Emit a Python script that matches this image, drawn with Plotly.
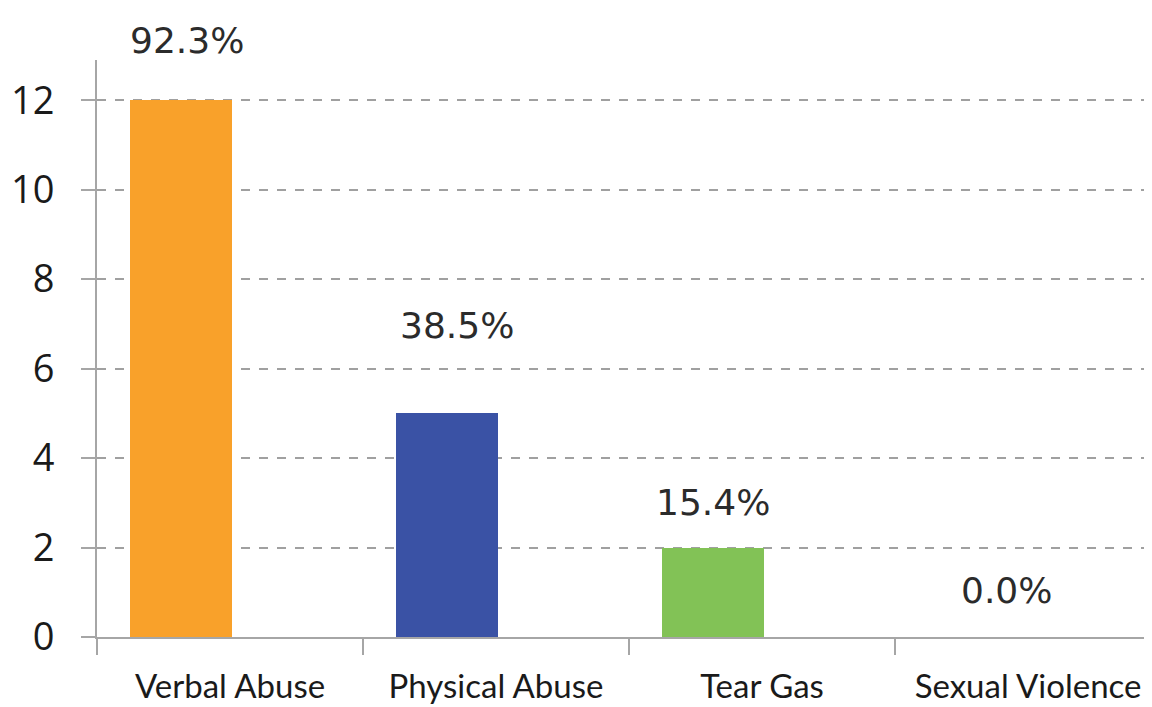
import plotly.graph_objects as go

categories = ["Verbal Abuse", "Physical Abuse", "Tear Gas", "Sexual Violence"]
counts = [12, 5, 2, 0]
pct_labels = ["92.3%", "38.5%", "15.4%", "0.0%"]
bar_colors = ["#F9A12A", "#3A52A5", "#82C256", "#A5A5A5"]
y_ticks = [0, 2, 4, 6, 8, 10, 12]

# label placement (style): pixel shifts relative to the bar top
label_yshift = [60, 88, 45, 47]
label_xshift = [-43, -39, -49, -22]

fig = go.Figure()
fig.add_trace(go.Bar(
    x=categories, y=counts,
    marker=dict(color=bar_colors, line=dict(width=0)),
    width=0.385, offset=-0.376,
    hoverinfo="x+y",
))

for c, v, t, ys, xs in zip(categories, counts, pct_labels, label_yshift, label_xshift):
    fig.add_annotation(x=c, y=v, text=t, showarrow=False, xanchor="center", yanchor="middle",
                       yshift=ys, xshift=xs,
                       font=dict(family="DejaVu Sans", size=36, color="#2b2b2b"))

fig.update_layout(
    width=1144, height=699,
    margin=dict(l=89, r=0, t=52, b=70, autoexpand=False),
    plot_bgcolor="white", paper_bgcolor="white",
    showlegend=False,
    bargap=0,
)
fig.update_xaxes(
    range=[-0.5, 3.466], automargin=False,
    showline=True, linecolor="#A6A6A6", linewidth=2,
    ticks="outside", tickson="boundaries", ticklen=16, tickcolor="#A6A6A6", tickwidth=2,
    ticklabelstandoff=19,
    tickfont=dict(family="Lato", size=33, color="#1a1a1a"),
    showgrid=False, zeroline=False,
)
fig.update_yaxes(
    range=[0, 12.9], automargin=False,
    tickvals=y_ticks,
    showline=True, linecolor="#A6A6A6", linewidth=2,
    ticks="outside", ticklen=14, tickcolor="#A6A6A6", tickwidth=2,
    ticklabelstandoff=19,
    tickfont=dict(family="Open Sans", size=38, color="#1a1a1a"),
    showgrid=True, gridcolor="#A0A0A0", gridwidth=1.5, griddash="dash",
    zeroline=False,
)

fig.write_html("out.html")
